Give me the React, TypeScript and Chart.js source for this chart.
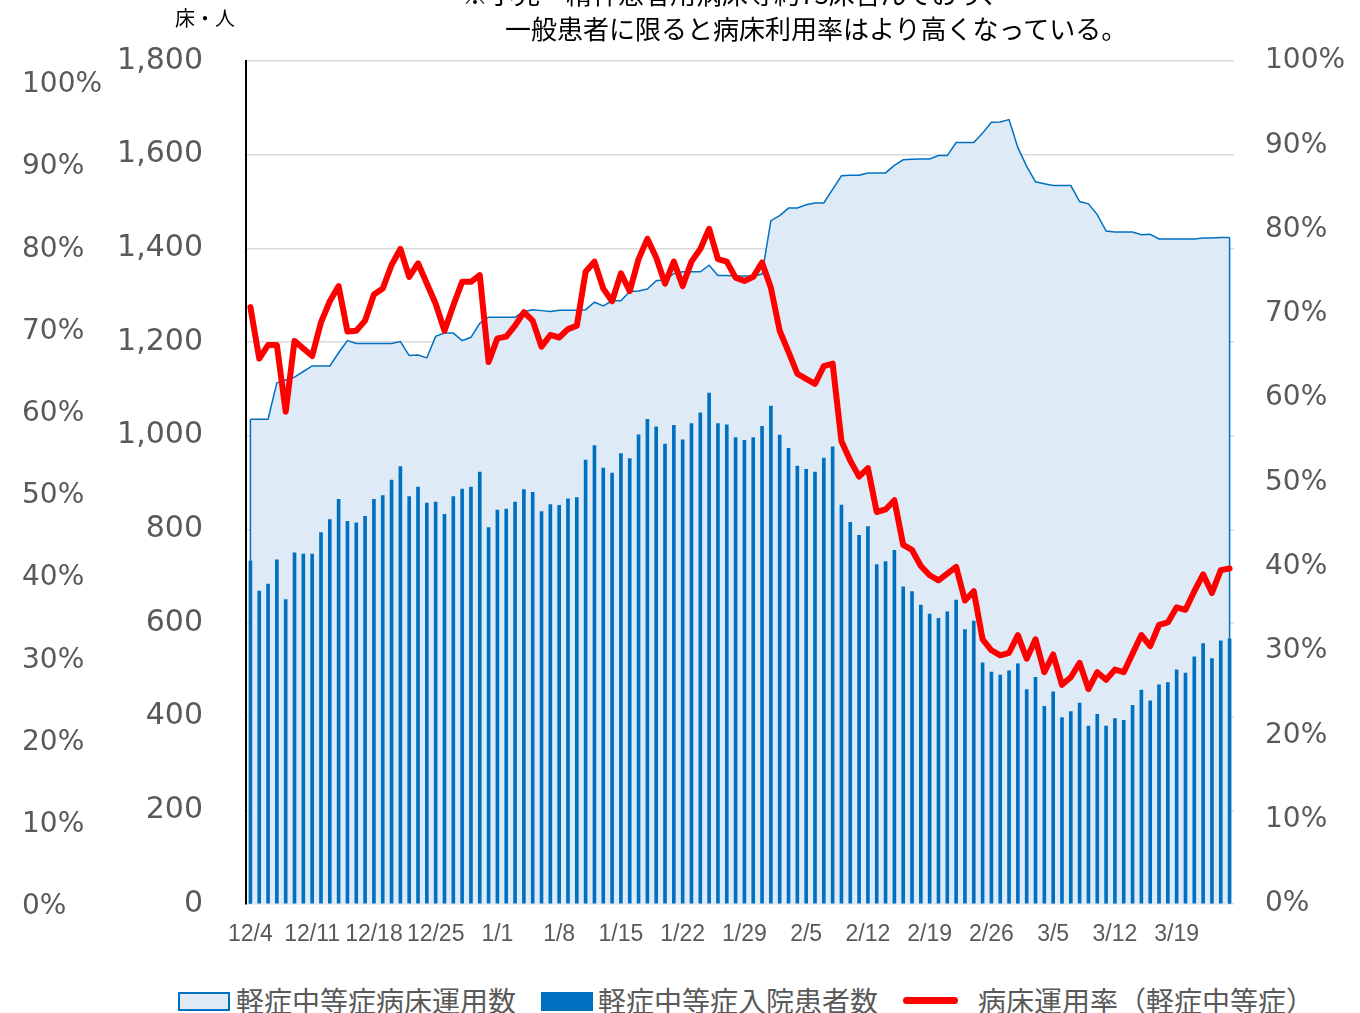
import React, { useEffect, useRef } from 'react';
import { Chart, registerables } from 'chart.js';

Chart.register(...registerables);

const categories = [
  '12/4', '12/5', '12/6', '12/7', '12/8', '12/9', '12/10', '12/11', '12/12', '12/13',
  '12/14', '12/15', '12/16', '12/17', '12/18', '12/19', '12/20', '12/21', '12/22', '12/23',
  '12/24', '12/25', '12/26', '12/27', '12/28', '12/29', '12/30', '12/31',
  '1/1', '1/2', '1/3', '1/4', '1/5', '1/6', '1/7', '1/8', '1/9', '1/10',
  '1/11', '1/12', '1/13', '1/14', '1/15', '1/16', '1/17', '1/18', '1/19', '1/20',
  '1/21', '1/22', '1/23', '1/24', '1/25', '1/26', '1/27', '1/28', '1/29', '1/30', '1/31',
  '2/1', '2/2', '2/3', '2/4', '2/5', '2/6', '2/7', '2/8', '2/9', '2/10',
  '2/11', '2/12', '2/13', '2/14', '2/15', '2/16', '2/17', '2/18', '2/19', '2/20',
  '2/21', '2/22', '2/23', '2/24', '2/25', '2/26', '2/27', '2/28',
  '3/1', '3/2', '3/3', '3/4', '3/5', '3/6', '3/7', '3/8', '3/9', '3/10',
  '3/11', '3/12', '3/13', '3/14', '3/15', '3/16', '3/17', '3/18', '3/19', '3/20',
  '3/21', '3/22', '3/23', '3/24', '3/25',
];

const tickLabels = [
  '12/4', '12/11', '12/18', '12/25', '1/1', '1/8', '1/15', '1/22', '1/29',
  '2/5', '2/12', '2/19', '2/26', '3/5', '3/12', '3/19',
];

// 軽症中等症病床運用数
const bedsInUse = [
  1035, 1035, 1035, 1113, 1119, 1125, 1137, 1149, 1149, 1149,
  1177, 1203, 1197, 1197, 1197, 1197, 1197, 1201, 1171, 1172,
  1166, 1212, 1219, 1219, 1203, 1210, 1240, 1253, 1253, 1253,
  1253, 1265, 1269, 1267, 1265, 1268, 1268, 1268, 1269, 1285,
  1277, 1288, 1288, 1308, 1309, 1313, 1331, 1333, 1346, 1350,
  1350, 1350, 1364, 1342, 1342, 1341, 1341, 1341, 1345, 1459,
  1470, 1486, 1486, 1493, 1497, 1497, 1526, 1555, 1556, 1556,
  1561, 1561, 1561, 1577, 1589, 1590, 1591, 1591, 1598, 1598,
  1626, 1626, 1626, 1646, 1669, 1670, 1675, 1615, 1575, 1542,
  1538, 1534, 1534, 1534, 1500, 1495, 1472, 1437, 1435, 1435,
  1435, 1429, 1430, 1420, 1420, 1420, 1420, 1420, 1422, 1422,
  1423, 1423,
];

// 軽症中等症入院患者数
const inpatients = [
  732, 668, 683, 735, 650, 750, 747, 747, 793, 821,
  864, 817, 814, 828, 864, 872, 905, 934, 870, 890,
  856, 858, 832, 870, 886, 890, 922, 804, 841, 843,
  858, 885, 879, 838, 853, 851, 865, 868, 948, 979,
  931, 920, 962, 951, 1002, 1035, 1019, 982, 1022, 991,
  1026, 1049, 1091, 1026, 1023, 996, 990, 996, 1020, 1063,
  1001, 973, 935, 928, 922, 952, 976, 852, 815, 787,
  806, 725, 731, 755, 677, 667, 638, 619, 610, 624,
  649, 586, 604, 515, 495, 489, 498, 513, 458, 484,
  422, 453, 398, 411, 429, 380, 405, 380, 396, 392,
  424, 457, 434, 468, 473, 500, 493, 528, 556, 524,
  562, 566,
];

// 病床運用率（軽症中等症） %
const occupancyRate = [
  70.8, 64.7, 66.3, 66.3, 58.4, 66.8, 65.9, 65.0, 69.0, 71.5,
  73.3, 67.9, 68.0, 69.2, 72.3, 73.0, 75.8, 77.7, 74.4, 76.0,
  73.6, 71.2, 68.0, 71.0, 73.8, 73.8, 74.6, 64.3, 67.1, 67.3,
  68.6, 70.2, 69.2, 66.1, 67.5, 67.2, 68.2, 68.6, 75.0, 76.2,
  73.0, 71.5, 74.8, 72.7, 76.5, 78.9, 76.7, 73.6, 76.2, 73.3,
  76.2, 77.7, 80.1, 76.5, 76.2, 74.3, 73.9, 74.4, 76.1, 73.1,
  68.0, 65.5, 62.9, 62.3, 61.7, 63.8, 64.1, 54.9, 52.6, 50.7,
  51.7, 46.5, 46.8, 47.9, 42.6, 42.0, 40.1, 39.0, 38.4, 39.2,
  40.0, 36.0, 37.1, 31.4, 30.1, 29.5, 29.8, 31.9, 29.1, 31.4,
  27.5, 29.6, 26.0, 26.9, 28.6, 25.5, 27.5, 26.6, 27.8, 27.5,
  29.7, 31.9, 30.6, 33.1, 33.4, 35.2, 34.9, 37.1, 39.1, 36.9,
  39.6, 39.8,
];

const leftPctTicks = [0, 10, 20, 30, 40, 50, 60, 70, 80, 90, 100];

const legendItems = [
  { label: '軽症中等症病床運用数', kind: 'area' },
  { label: '軽症中等症入院患者数', kind: 'bar' },
  { label: '病床運用率（軽症中等症）', kind: 'line' },
];

const GRAY = '#595959';
const BLUE = '#0070C0';
const FILL = '#DEEBF7';
const RED = '#FF0000';
const JP = "'Noto Sans CJK JP', 'Noto Sans', sans-serif";

export default function App() {
  const ref = useRef<HTMLCanvasElement>(null);

  useEffect(() => {
    if (!ref.current) return;
    const edgePlugin = {
      id: 'areaEdges',
      afterDatasetDraw(chart: any, args: any) {
        if (args.index !== 0) return;
        const pts = chart.getDatasetMeta(0).data;
        if (!pts.length) return;
        const first = pts[0];
        const last = pts[pts.length - 1];
        const bottom = chart.scales.y.getPixelForValue(0);
        const ctx = chart.ctx;
        ctx.save();
        ctx.strokeStyle = BLUE;
        ctx.lineWidth = 1.5;
        ctx.beginPath();
        ctx.moveTo(first.x, first.y);
        ctx.lineTo(first.x, bottom);
        ctx.moveTo(last.x, last.y);
        ctx.lineTo(last.x, bottom);
        ctx.stroke();
        ctx.restore();
      },
    };

    const chart = new Chart(ref.current, {
      type: 'bar',
      data: {
        labels: categories,
        datasets: [
          {
            type: 'line',
            label: legendItems[0].label,
            data: bedsInUse,
            yAxisID: 'y',
            borderColor: BLUE,
            borderWidth: 1.5,
            backgroundColor: FILL,
            fill: 'origin',
            pointRadius: 0,
            tension: 0,
            order: 3,
          } as any,
          {
            type: 'bar',
            label: legendItems[1].label,
            data: inpatients,
            yAxisID: 'y',
            backgroundColor: BLUE,
            barThickness: 3,
            order: 2,
          } as any,
          {
            type: 'line',
            label: legendItems[2].label,
            data: occupancyRate,
            yAxisID: 'yR',
            borderColor: RED,
            borderWidth: 6,
            pointRadius: 0,
            fill: false,
            tension: 0,
            borderJoinStyle: 'round',
            borderCapStyle: 'round',
            order: 1,
          } as any,
        ],
      },
      options: {
        responsive: false,
        animation: false,
        devicePixelRatio: 1,
        layout: { padding: { left: 22, top: 59, right: 0, bottom: 0 } },
        plugins: { legend: { display: false }, tooltip: { enabled: false } },
        scales: {
          x: {
            type: 'category',
            offset: true,
            grid: { display: false, drawTicks: false },
            border: { display: false },
            ticks: {
              autoSkip: false,
              maxRotation: 0,
              minRotation: 0,
              padding: 17,
              color: GRAY,
              font: { family: "'Liberation Sans', sans-serif", size: 23 },
              callback: (_v: any, i: number) =>
                tickLabels.includes(categories[i]) ? categories[i] : '',
            },
            afterFit: (s: any) => {
              s.height = 58;
            },
          },
          yPctL: {
            position: 'left',
            weight: 1,
            min: 0.365,
            max: 102.92,
            grid: { display: false, drawTicks: false },
            border: { display: false },
            ticks: {
              crossAlign: 'far',
              padding: 0,
              color: GRAY,
              font: { family: "'DejaVu Sans', sans-serif", size: 28 },
              callback: (v: any) => v + '%',
            },
            afterBuildTicks: (s: any) => {
              s.ticks = leftPctTicks.map((v) => ({ value: v }));
            },
            afterFit: (s: any) => {
              s.width = 88;
            },
          },
          y: {
            position: 'left',
            weight: 0,
            min: 0,
            max: 1800,
            grid: { color: '#D9D9D9', lineWidth: 1.5, drawTicks: false },
            border: { display: true, color: '#000000', width: 2 },
            ticks: {
              stepSize: 200,
              padding: 43,
              color: GRAY,
              font: { family: "'DejaVu Sans', sans-serif", size: 30 },
              callback: (v: any) => Number(v).toLocaleString('en-US'),
            },
            afterFit: (s: any) => {
              s.width = 136;
            },
          },
          yR: {
            position: 'right',
            min: 0,
            max: 100,
            grid: { display: false, drawTicks: false },
            border: { display: false },
            ticks: {
              stepSize: 10,
              padding: 31,
              color: GRAY,
              font: { family: "'DejaVu Sans', sans-serif", size: 28 },
              callback: (v: any) => v + '%',
            },
            afterFit: (s: any) => {
              s.width = 126;
            },
          },
        },
      } as any,
      plugins: [edgePlugin],
    });
    return () => chart.destroy();
  }, []);

  const legendBase: React.CSSProperties = {
    position: 'absolute',
    top: 982,
    height: 36,
    lineHeight: '36px',
    fontFamily: JP,
    fontSize: 28,
    color: GRAY,
    whiteSpace: 'nowrap',
  };

  return (
    <div
      style={{
        position: 'absolute',
        left: 0,
        top: 0,
        width: 1360,
        height: 1013,
        overflow: 'hidden',
        background: '#ffffff',
      }}
    >
      <canvas ref={ref} width={1360} height={965} style={{ position: 'absolute', left: 0, top: 0 }} />
      <div
        style={{
          position: 'absolute',
          left: 462,
          top: -25,
          fontFamily: JP,
          fontSize: 26,
          lineHeight: '35px',
          color: '#000000',
          whiteSpace: 'nowrap',
        }}
      >
        <div>※小児・精神患者用病床等約73床含んでおり、</div>
        <div style={{ paddingLeft: 43 }}>一般患者に限ると病床利用率はより高くなっている。</div>
      </div>
      <div
        style={{
          position: 'absolute',
          left: 175,
          top: 5,
          fontFamily: JP,
          fontSize: 20,
          lineHeight: '26px',
          color: '#000000',
        }}
      >
        床・人
      </div>
      <div
        style={{
          position: 'absolute',
          left: 178,
          top: 992,
          width: 52,
          height: 19,
          boxSizing: 'border-box',
          background: FILL,
          border: `2px solid ${BLUE}`,
        }}
      />
      <div style={{ ...legendBase, left: 236 }}>{legendItems[0].label}</div>
      <div
        style={{
          position: 'absolute',
          left: 541,
          top: 992,
          width: 52,
          height: 19,
          background: BLUE,
        }}
      />
      <div style={{ ...legendBase, left: 598 }}>{legendItems[1].label}</div>
      <div
        style={{
          position: 'absolute',
          left: 903,
          top: 997,
          width: 55,
          height: 7,
          borderRadius: 3.5,
          background: RED,
        }}
      />
      <div style={{ ...legendBase, left: 978 }}>{legendItems[2].label}</div>
    </div>
  );
}
